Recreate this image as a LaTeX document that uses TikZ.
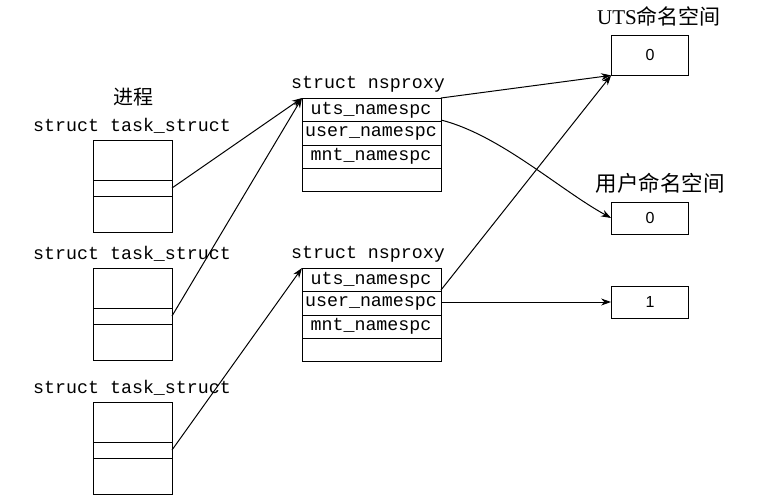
\documentclass[tikz,border=0pt]{standalone}
\usepackage{fontspec}
\setmainfont{Liberation Serif}
\newfontfamily\mono{Liberation Mono}
\newfontfamily\cjk{Noto Sans CJK SC}
\newfontfamily\sans{Liberation Sans}
\usetikzlibrary{arrows.meta}
\begin{document}
\begin{tikzpicture}[x=1pt,y=-1pt,
  lab/.style={font=\mono\fontsize{18.3}{20}\selectfont,inner sep=0pt},
  box/.style={draw,line width=0.8pt},
  arr/.style={-{Stealth[length=10pt,width=7pt]},line width=1pt},
  nb/.style={draw,line width=0.8pt,minimum width=77pt,minimum height=32pt,font=\sans\fontsize{16}{18}\selectfont}]
\useasboundingbox (0,0) rectangle (759,500);
% processes
\node[font=\cjk\fontsize{20}{22}\selectfont] (proc) at (133,97) {进程};
\node[lab,anchor=west] (t1l) at (33,126) {struct task\_struct};
\node[lab,anchor=west] (t2l) at (33,254) {struct task\_struct};
\node[lab,anchor=west] (t3l) at (33,388) {struct task\_struct};
\foreach \n/\y in {1/140,2/268,3/402}{
  \draw[box] (93,\y) rectangle (172,\y+92);
  \draw[box] (93,\y+40) -- (172,\y+40) (93,\y+56) -- (172,\y+56);
  \coordinate (t\n) at (172,\y+48);
}
% nsproxy
\foreach \n/\y in {1/98,2/268}{
  \draw[box] (302,\y) rectangle (441,\y+93);
  \foreach \d in {23,47,70} \draw[box] (302,\y+\d) -- (441,\y+\d);
  \node[lab] (u\n) at (371,\y+12) {uts\_namespc};
  \node[lab] (s\n) at (371,\y+35) {user\_namespc};
  \node[lab] (m\n) at (371,\y+58) {mnt\_namespc};
  \coordinate (p\n) at (302,\y);
  \coordinate (ur\n) at (441,\y);
  \coordinate (sr\n) at (441,\y+23);
}
\node[lab] (n1l) at (368,84) {struct nsproxy};
\node[lab] (n2l) at (368,254) {struct nsproxy};
% namespaces
\node (utsl) at (659,16) {\fontsize{21}{23}\selectfont UTS\cjk\fontsize{21}{23}\selectfont 命名空间};
\node[nb,minimum height=40pt] (uts) at (650,55) {0};
\node[font=\cjk\fontsize{21.5}{23}\selectfont] (usrl) at (660,183) {用户命名空间};
\node[nb] (us0) at (650,218) {0};
\node[nb] (us1) at (650,302) {1};
% arrows
\draw[arr] (t1) -- (p1);
\draw[arr] (t2) -- (p1);
\draw[arr] (t3) -- (p2);
\draw[arr] (ur1) -- (uts.south west);
\draw[arr] (441,290) -- (uts.south west);
\draw[arr] (441,120) .. controls (500,135) and (560,190) .. (us0.west);
\draw[arr] (441,302) -- (us1.west);
\end{tikzpicture}
\end{document}
